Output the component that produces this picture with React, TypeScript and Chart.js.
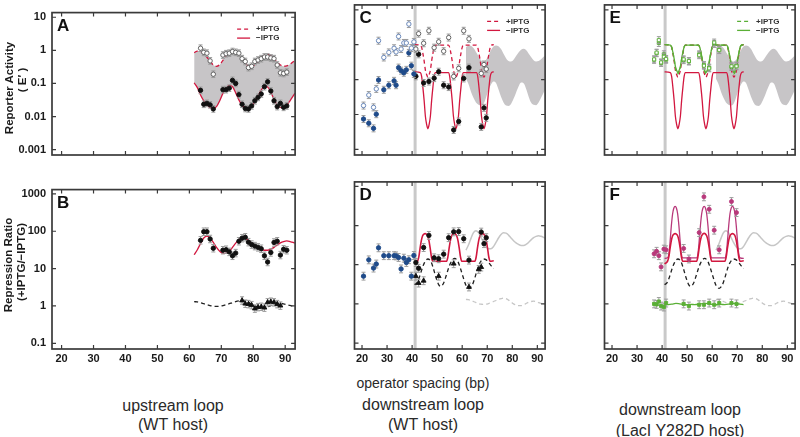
import React, { useEffect, useRef } from "react";
import { Chart, registerables } from "chart.js";
Chart.register(...registerables);

// ---------- axes ----------
const X_MIN = 17.0;
const X_MAX = 93.1;
const X_TICKS = [20, 30, 40, 50, 60, 70, 80, 90];
const TOP_Y_TICKS = [0.001, 0.01, 0.1, 1, 10];
const BOT_Y_TICKS = [0.1, 1, 10, 100, 1000];
const TOP_Y_RANGE = [0.00069, 13.8];
const BOT_Y_RANGE = [0.0705, 1300];
const VLINE_X = 41.2;

// ---------- upstream loop (A, B) ----------
const A_X = [63.5, 64.5, 65.5, 66.5, 67.5, 70.5, 71.5, 72.5, 73.5, 74.5, 75.5, 76.5, 77.5, 78.5, 79.5, 80.5, 81.5, 82.5, 83.5, 84.5, 85.5, 86.5, 87.5, 88.5, 89.5, 90.5];
const A_PLUS = [1.16, 0.87, 0.82, 0.48, 0.19, 0.72, 0.79, 0.82, 0.92, 0.87, 0.82, 0.56, 0.46, 0.30, 0.33, 0.46, 0.51, 0.56, 0.63, 0.63, 0.59, 0.56, 0.36, 0.21, 0.20, 0.22];
const A_MINUS = [0.062, 0.0235, 0.025, 0.0226, 0.017, 0.065, 0.065, 0.072, 0.124, 0.10, 0.046, 0.0235, 0.0175, 0.017, 0.021, 0.030, 0.038, 0.048, 0.080, 0.112, 0.059, 0.030, 0.020, 0.025, 0.019, 0.021];
const B_RATIO = [57, 97, 97, 62, 35, 31, 32, 28, 22, 26, 54, 65, 69, 51, 44, 40, 37, 34, 22, 15, 27, 50, 54, 23, 33, 31];
const B_TRI_X = [76.5, 77.5, 78.5, 79.5, 80.5, 81.5, 82.5, 83.5, 84.5, 85.5, 86.5, 87.5, 88.5];
const B_TRI = [1.4, 1.15, 1.12, 1.05, 0.85, 0.93, 0.95, 0.9, 1.25, 1.3, 1.25, 1.12, 1.02];

// model curves for upstream loop (also shown as band / grey curves in other panels)
const BAND_X = [61.5, 62.5, 63.5, 64.5, 65.5, 66.5, 67.5, 68.5, 69.5, 70.5, 71.5, 72.5, 73.5, 74.5, 75.5, 76.5, 77.5, 78.5, 79.5, 80.5, 81.5, 82.5, 83.5, 84.5, 85.5, 86.5, 87.5, 88.5, 89.5, 90.5, 91.5, 92.5, 93.0];
const BAND_UP = [0.85, 0.95, 0.93, 0.8, 0.62, 0.47, 0.36, 0.33, 0.37, 0.5, 0.7, 0.88, 0.95, 0.9, 0.75, 0.55, 0.41, 0.34, 0.33, 0.37, 0.47, 0.6, 0.72, 0.76, 0.7, 0.56, 0.44, 0.36, 0.33, 0.34, 0.38, 0.45, 0.48];
const BAND_LO = [0.105, 0.075, 0.045, 0.03, 0.022, 0.019, 0.018, 0.02, 0.03, 0.05, 0.072, 0.088, 0.08, 0.052, 0.032, 0.022, 0.018, 0.0175, 0.02, 0.028, 0.042, 0.063, 0.082, 0.078, 0.055, 0.033, 0.022, 0.019, 0.0185, 0.022, 0.03, 0.042, 0.05];
const B_FIT = [23.5, 32, 47, 66, 74, 66, 50, 37, 29, 25.5, 25.5, 29, 37, 48, 59, 65, 64, 57, 48, 41, 36, 33, 31, 31, 33, 37, 43, 49, 53, 55, 53, 50, 48];
const B_DASH = [1.3, 1.28, 1.22, 1.15, 1.08, 1.02, 0.98, 0.97, 0.98, 1.02, 1.08, 1.15, 1.22, 1.3, 1.36, 1.4, 1.36, 1.25, 1.12, 1.0, 0.93, 0.9, 0.9, 0.95, 1.02, 1.1, 1.15, 1.17, 1.14, 1.08, 1.03, 1.0, 1.0];

// ---------- downstream loop, WT host (C, D) ----------
const BLUE_X = [20.6, 22.7, 24.6, 25.7, 26.6, 28.7, 30.7, 32.8, 33.6, 34.6, 35.6, 36.7, 37.7, 38.7, 39.7, 40.7];
const C_BLUE_PLUS = [0.018, 0.036, 0.016, 0.054, 1.3, 0.43, 0.6, 0.79, 0.62, 1.72, 0.75, 1.12, 1.12, 3.9, 0.8, 1.2];
const C_BLUE_MINUS = [0.0074, 0.0056, 0.004, 0.0102, 0.097, 0.051, 0.069, 0.092, 0.069, 0.22, 0.18, 0.157, 0.19, 0.58, 0.25, 0.145];
const D_BLUE = [5.1, 13.3, 8.2, 10.4, 27, 17, 17, 17, 16.8, 15.3, 7.8, 14.7, 11.4, 13.4, 5.1, 17.2];
const DARK_X = [41.5, 42.6, 44.6, 46.7, 48.8, 50.6, 52.6, 54.6, 56.6, 58.6, 60.6, 62.7, 67.6, 68.7, 69.6];
const C_PLUS = [0.75, 2.07, 1.1, 2.5, 0.82, 1.21, 0.65, 1.6, 0.123, 0.21, 2.5, 1.47, 0.15, 0.27, 0.2];
const C_MINUS = [0.124, 0.53, 0.08, 0.088, 0.11, 0.168, 0.069, 0.061, 0.0036, 0.0063, 0.108, 0.22, 0.0044, 0.0155, 0.008];
const D_RATIO = [11.4, 8.1, 27.4, 56, 15, 14.2, 18.6, 49, 69, 70, 46, 13.1, 68, 34.5, 49];
const D_TRI_X = [41.5, 42.6, 44.6, 50.6, 56.6, 62.7, 66.6, 67.6];
const D_TRI = [5.1, 3.4, 3.9, 5.1, 10.6, 2.7, 7.6, 8.7];

const FIT_X = [41.0, 43.3, 43.8, 44.3, 44.8, 45.3, 45.8, 46.3, 46.8, 47.3, 47.8, 48.3, 48.8, 49.3, 54.5, 55.0, 55.5, 56.0, 56.5, 57.0, 57.5, 58.0, 58.5, 59.0, 59.5, 60.0, 60.5, 65.7, 66.2, 66.7, 67.2, 67.7, 68.2, 68.7, 69.2, 69.7, 70.2, 70.7, 71.2, 71.7, 72.6];
const FIT_MINUS = [0.166, 0.158, 0.123, 0.060, 0.0254, 0.0089, 0.0052, 0.0039, 0.0052, 0.0089, 0.0254, 0.060, 0.123, 0.158, 0.158, 0.123, 0.060, 0.0254, 0.0089, 0.0052, 0.0039, 0.0052, 0.0089, 0.0254, 0.060, 0.123, 0.158, 0.158, 0.123, 0.060, 0.0254, 0.0089, 0.0052, 0.0039, 0.0052, 0.0089, 0.0254, 0.060, 0.123, 0.158, 0.166];
const FIT_PLUS = [1.0, 0.97, 0.84, 0.56, 0.343, 0.188, 0.139, 0.117, 0.139, 0.188, 0.343, 0.56, 0.84, 0.97, 0.97, 0.84, 0.56, 0.343, 0.188, 0.139, 0.117, 0.139, 0.188, 0.343, 0.56, 0.84, 0.97, 0.97, 0.84, 0.56, 0.343, 0.188, 0.139, 0.117, 0.139, 0.188, 0.343, 0.56, 0.84, 0.97, 1.0];

const RATIO_FIT_X = [41.0, 42.2, 42.7, 43.2, 43.7, 44.2, 44.7, 45.2, 45.7, 46.2, 46.7, 47.2, 47.7, 48.2, 53.8, 54.3, 54.8, 55.3, 55.8, 56.3, 56.8, 57.3, 57.8, 58.3, 58.8, 59.3, 59.8, 65.1, 65.6, 66.1, 66.6, 67.1, 67.6, 68.1, 68.6, 69.1, 69.6, 70.1, 70.6, 71.1, 72.6];
const D_FIT = [10.5, 12.3, 16, 27, 42, 55, 60, 62, 60, 55, 42, 27, 16, 12.3, 12.3, 16, 27, 42, 55, 61, 63, 61, 55, 42, 27, 16, 12.3, 12.3, 16, 27, 42, 55, 60, 62, 60, 55, 42, 27, 16, 12.3, 12.6];
const DASH_X = [41, 42, 43, 44, 45, 46.3, 47.5, 48.5, 49.5, 50.5, 51.4, 52.5, 53.5, 54.5, 55.5, 57, 58.3, 59.3, 60.3, 61.5, 62.8, 64, 65, 66, 67, 68.5, 69.5, 70.5, 71.5, 72.6];
const DASH_Y = [3.1, 3.5, 5, 8, 11.5, 14, 12, 8, 4.8, 3.2, 2.8, 3.3, 5, 8, 11.5, 14.5, 12, 8, 5, 3, 2.5, 3, 4.5, 7.5, 11, 14, 13.5, 11.5, 9.5, 8];

// ---------- downstream loop, LacI Y282D host (E, F) ----------
const Y282D_X = [36.8, 37.8, 38.7, 39.6, 40.7, 41.6, 48.6, 50.7, 54.8, 56.7, 58.8, 60.8, 62.8, 67.7, 69.7];
const E_PLUS = [0.38, 0.59, 1.35, 0.31, 0.45, 0.39, 0.38, 0.34, 0.5, 0.25, 0.21, 1.15, 0.7, 0.24, 0.24];
const E_MINUS = [0.37, 0.57, 1.12, 0.3, 0.53, 0.37, 0.36, 0.33, 0.53, 0.26, 0.22, 1.05, 0.72, 0.23, 0.25];
const E_FIT_MINUS = [1.0, 0.97, 0.86, 0.61, 0.40, 0.24, 0.184, 0.158, 0.184, 0.24, 0.40, 0.61, 0.86, 0.97, 0.97, 0.86, 0.61, 0.40, 0.24, 0.184, 0.158, 0.184, 0.24, 0.40, 0.61, 0.86, 0.97, 0.97, 0.86, 0.61, 0.40, 0.24, 0.184, 0.158, 0.184, 0.24, 0.40, 0.61, 0.86, 0.97, 1.0];
const E_FIT_PLUS = [1.0, 0.97, 0.86, 0.59, 0.38, 0.22, 0.169, 0.145, 0.169, 0.22, 0.38, 0.59, 0.86, 0.97, 0.97, 0.86, 0.59, 0.38, 0.22, 0.169, 0.145, 0.169, 0.22, 0.38, 0.59, 0.86, 0.97, 0.97, 0.86, 0.59, 0.38, 0.22, 0.169, 0.145, 0.169, 0.22, 0.38, 0.59, 0.86, 0.97, 1.0];
const F_MAG = [19, 22, 17, 8.8, 25, 24, 26, 14, 66, 540, 260, 76, 24, 410, 214];
const F_GREEN = [1.0, 0.97, 1.15, 0.88, 0.83, 1.05, 1.0, 0.88, 0.95, 0.95, 1.05, 0.95, 1.05, 1.05, 1.0];
const F_MAG_FIT = [14.5, 15, 19, 40, 100, 200, 280, 310, 280, 200, 100, 40, 19, 15, 15, 19, 40, 100, 200, 280, 310, 280, 200, 100, 40, 19, 15, 15, 19, 40, 100, 200, 280, 310, 280, 200, 100, 40, 19, 15, 14.5];
const G_FLAT_X = [41, 42.5, 44, 45.5, 47, 48.5, 50, 51.5, 53, 54.5, 56, 57.5, 59, 60.5, 62, 63.5, 65, 66.5, 68, 69.5, 71, 72.5];
const F_GREEN_FIT = [0.95, 0.96, 0.99, 1.03, 1.0, 0.96, 0.95, 0.97, 0.96, 0.98, 1.02, 1.03, 0.99, 0.96, 0.95, 0.97, 0.96, 0.98, 1.03, 1.02, 0.98, 0.96];

// ---------- style ----------
const FONT = '"Liberation Sans", Arial, Helvetica, sans-serif';
const FRAME = "#3a3a3a";
const RED = "#d2173f";
const MAGENTA = "#b8387a";
const GREEN = "#5aaf36";
const BLUE = "#1f4b8a";
const BLUE_OPEN = "#5b7db3";
const BAND_GRAY = "#c7c5c7";
const LIGHT_GRAY = "#c6c6c6";
const ERR = 0.1;

const pts = (xs: number[], ys: number[]) => xs.map((x, i) => ({ x, y: ys[i] }));

const curve = (xs: number[], ys: number[], color: string, opts: any = {}) => ({
  data: pts(xs, ys),
  borderColor: color,
  borderWidth: 1.3,
  pointRadius: 0,
  fill: false,
  cubicInterpolationMode: "monotone",
  order: 10,
  ...opts,
});

const band = (): any[] => [
  { data: pts(BAND_X, BAND_UP), borderWidth: 0, borderColor: "rgba(0,0,0,0)", pointRadius: 0, fill: false, cubicInterpolationMode: "monotone", order: 20 },
  { data: pts(BAND_X, BAND_LO), borderWidth: 0, borderColor: "rgba(0,0,0,0)", pointRadius: 0, fill: "-1", backgroundColor: BAND_GRAY, cubicInterpolationMode: "monotone", order: 20 },
];

const marks = (xs: number[], ys: number[], style: string, fillC: string, edge: string, opts: any = {}) => ({
  data: pts(xs, ys),
  showLine: false,
  pointStyle: style,
  pointRadius: 2.2,
  pointBackgroundColor: fillC,
  pointBorderColor: edge,
  pointBorderWidth: 0.9,
  errDec: ERR,
  order: 2,
  ...opts,
});

const decoPlugin = {
  id: "deco",
  beforeDatasetsDraw(chart: any) {
    const o = chart.options.plugins.deco;
    const { ctx, chartArea: a } = chart;
    if (o && o.vline) {
      const px = chart.scales.x.getPixelForValue(VLINE_X);
      ctx.save();
      ctx.strokeStyle = "#c9c9c9";
      ctx.lineWidth = 3;
      ctx.beginPath();
      ctx.moveTo(px, a.top);
      ctx.lineTo(px, a.bottom);
      ctx.stroke();
      ctx.restore();
    }
  },
  beforeDatasetDraw(chart: any, args: any) {
    const ds = chart.data.datasets[args.index];
    if (!ds.errDec) return;
    const { ctx } = chart;
    const xs = chart.scales.x;
    const ys = chart.scales.y;
    const f = Math.pow(10, ds.errDec);
    ctx.save();
    ctx.strokeStyle = "#9c9c9c";
    ctx.lineWidth = 1;
    ds.data.forEach((p: any) => {
      const px = xs.getPixelForValue(p.x);
      const y1 = ys.getPixelForValue(p.y * f);
      const y2 = ys.getPixelForValue(p.y / f);
      ctx.beginPath();
      ctx.moveTo(px, y1);
      ctx.lineTo(px, y2);
      ctx.moveTo(px - 2, y1);
      ctx.lineTo(px + 2, y1);
      ctx.moveTo(px - 2, y2);
      ctx.lineTo(px + 2, y2);
      ctx.stroke();
    });
    ctx.restore();
  },
  afterDatasetsDraw(chart: any) {
    const o = chart.options.plugins.deco;
    const { ctx, chartArea: a } = chart;
    const xs = chart.scales.x;
    const ys = chart.scales.y;
    ctx.save();
    ctx.strokeStyle = FRAME;
    ctx.lineWidth = 1.7;
    ctx.strokeRect(a.left, a.top, a.right - a.left, a.bottom - a.top);
    ctx.lineWidth = 1.2;
    ctx.beginPath();
    X_TICKS.forEach((v) => {
      const px = xs.getPixelForValue(v);
      ctx.moveTo(px, a.bottom);
      ctx.lineTo(px, a.bottom - 4);
      ctx.moveTo(px, a.top);
      ctx.lineTo(px, a.top + 4);
    });
    (o.yTicks as number[]).forEach((v) => {
      const py = ys.getPixelForValue(v);
      ctx.moveTo(a.left, py);
      ctx.lineTo(a.left + 4, py);
      ctx.moveTo(a.right, py);
      ctx.lineTo(a.right - 4, py);
    });
    ctx.stroke();

    ctx.fillStyle = "#111";
    ctx.font = `bold 17px ${FONT}`;
    ctx.textBaseline = "alphabetic";
    ctx.textAlign = "left";
    ctx.fillText(o.letter, a.left + 5, a.top + 18.5);

    if (o.legendColor) {
      const x0 = a.right - 58;
      const x1 = a.right - 45;
      const r1 = a.top + 16.5;
      const r2 = a.top + 25.5;
      ctx.strokeStyle = o.legendColor;
      ctx.lineWidth = 1.3;
      ctx.setLineDash([4, 3]);
      ctx.beginPath();
      ctx.moveTo(x0, r1);
      ctx.lineTo(x1, r1);
      ctx.stroke();
      ctx.setLineDash([]);
      ctx.beginPath();
      ctx.moveTo(x0, r2);
      ctx.lineTo(x1, r2);
      ctx.stroke();
      ctx.fillStyle = "#333";
      ctx.font = `bold 8px ${FONT}`;
      ctx.textBaseline = "middle";
      ctx.fillText("+IPTG", a.right - 39, r1);
      ctx.fillText("\u2212IPTG", a.right - 39, r2);
    }
    ctx.restore();
  },
};

type Spec = {
  left: number; top: number; w: number; h: number;
  pad: any; bottomRow: boolean; yLabels: boolean; xLabels: boolean;
  letter: string; legendColor?: string; vline?: boolean; datasets: any[];
};

function buildConfig(s: Spec): any {
  const yTicks = s.bottomRow ? BOT_Y_TICKS : TOP_Y_TICKS;
  const yRange = s.bottomRow ? BOT_Y_RANGE : TOP_Y_RANGE;
  const tickFont = { family: FONT, size: 11, weight: "bold" };
  return {
    type: "line",
    data: { datasets: s.datasets },
    options: {
      responsive: false,
      maintainAspectRatio: false,
      animation: false,
      events: [],
      layout: { padding: s.pad },
      plugins: {
        legend: { display: false },
        tooltip: { enabled: false },
        deco: { letter: s.letter, legendColor: s.legendColor || "", vline: !!s.vline, yTicks },
      },
      scales: {
        x: {
          type: "linear",
          min: X_MIN,
          max: X_MAX,
          display: s.xLabels,
          grid: { display: false, drawTicks: false },
          border: { display: false },
          ticks: { font: tickFont, color: "#1a1a1a", padding: 3, maxRotation: 0, autoSkip: false },
          afterBuildTicks: (sc: any) => { sc.ticks = X_TICKS.map((v) => ({ value: v })); },
          afterFit: (sc: any) => { sc.height = 18; },
        },
        y: {
          type: "logarithmic",
          min: yRange[0],
          max: yRange[1],
          display: s.yLabels,
          grid: { display: false, drawTicks: false },
          border: { display: false },
          ticks: { font: tickFont, color: "#1a1a1a", padding: 6, autoSkip: false, callback: (v: any) => String(v) },
          afterBuildTicks: (sc: any) => { sc.ticks = yTicks.map((v) => ({ value: v })); },
          afterFit: (sc: any) => { sc.width = 52; },
        },
      },
    },
    plugins: [decoPlugin],
  };
}

function Panel({ spec }: { spec: Spec }) {
  const ref = useRef<HTMLCanvasElement>(null);
  useEffect(() => {
    const chart = new Chart(ref.current as HTMLCanvasElement, buildConfig(spec));
    return () => chart.destroy();
  }, []);
  return (
    <canvas
      ref={ref}
      width={spec.w}
      height={spec.h}
      style={{ position: "absolute", left: spec.left, top: spec.top, width: spec.w, height: spec.h }}
    />
  );
}

const openCircle = (xs: number[], ys: number[], edge: string, order = 1) => marks(xs, ys, "circle", "#ffffff", edge, { order });
const filledCircle = (xs: number[], ys: number[], c: string, order = 2) => marks(xs, ys, "circle", c, c, { order });

const SPECS: Spec[] = [
  {
    left: 0, top: 0, w: 300, h: 177, pad: { left: 0, top: 4, right: 2, bottom: 4 },
    bottomRow: false, yLabels: true, xLabels: false, letter: "A", legendColor: RED,
    datasets: [
      ...band(),
      curve(BAND_X, BAND_UP, RED, { borderDash: [4, 3] }),
      curve(BAND_X, BAND_LO, RED),
      filledCircle(A_X, A_MINUS, "#111"),
      openCircle(A_X, A_PLUS, "#555"),
    ],
  },
  {
    left: 0, top: 177, w: 300, h: 190, pad: { left: 0, top: 3.5, right: 2, bottom: 0 },
    bottomRow: true, yLabels: true, xLabels: true, letter: "B",
    datasets: [
      curve(BAND_X, B_FIT, RED),
      curve(BAND_X, B_DASH, "#222", { borderDash: [4, 3] }),
      filledCircle(A_X, B_RATIO, "#111"),
      marks(B_TRI_X, B_TRI, "triangle", "#111", "#111", { pointRadius: 2.8 }),
    ],
  },
  {
    left: 300, top: 0, w: 250, h: 177, pad: { left: 2.5, top: 4, right: 1.5, bottom: 4 },
    bottomRow: false, yLabels: false, xLabels: false, letter: "C", legendColor: RED, vline: true,
    datasets: [
      ...band(),
      curve(FIT_X, FIT_PLUS, RED, { borderDash: [4, 3] }),
      curve(FIT_X, FIT_MINUS, RED),
      filledCircle(BLUE_X, C_BLUE_MINUS, BLUE),
      openCircle(BLUE_X, C_BLUE_PLUS, BLUE_OPEN),
      filledCircle(DARK_X, C_MINUS, "#111"),
      openCircle(DARK_X, C_PLUS, "#555"),
    ],
  },
  {
    left: 300, top: 177, w: 250, h: 190, pad: { left: 2.5, top: 3.5, right: 1.5, bottom: 0 },
    bottomRow: true, yLabels: false, xLabels: true, letter: "D", vline: true,
    datasets: [
      curve(BAND_X, B_FIT, LIGHT_GRAY, { order: 20, borderWidth: 1.5 }),
      curve(BAND_X, B_DASH, LIGHT_GRAY, { order: 20, borderDash: [4, 3] }),
      curve(DASH_X, DASH_Y, "#222", { borderDash: [4, 3] }),
      curve(RATIO_FIT_X, D_FIT, RED, { order: 9, borderWidth: 1.6 }),
      filledCircle(BLUE_X, D_BLUE, BLUE),
      filledCircle(DARK_X, D_RATIO, "#111"),
      marks(D_TRI_X, D_TRI, "triangle", "#111", "#111", { pointRadius: 2.8 }),
    ],
  },
  {
    left: 550, top: 0, w: 250, h: 177, pad: { left: 2.5, top: 4, right: 4, bottom: 4 },
    bottomRow: false, yLabels: false, xLabels: false, letter: "E", legendColor: GREEN, vline: true,
    datasets: [
      ...band(),
      curve(FIT_X, FIT_MINUS, RED),
      curve(FIT_X, FIT_PLUS, RED, { borderDash: [4, 3] }),
      curve(FIT_X, E_FIT_MINUS, GREEN, { order: 8 }),
      curve(FIT_X, E_FIT_PLUS, GREEN, { order: 8, borderDash: [4, 3] }),
      marks(Y282D_X, E_MINUS, "rect", GREEN, GREEN, { order: 2 }),
      marks(Y282D_X, E_PLUS, "rect", "#ffffff", GREEN, { order: 1 }),
    ],
  },
  {
    left: 550, top: 177, w: 250, h: 190, pad: { left: 2.5, top: 3.5, right: 4, bottom: 0 },
    bottomRow: true, yLabels: false, xLabels: true, letter: "F", vline: true,
    datasets: [
      curve(BAND_X, B_FIT, LIGHT_GRAY, { order: 20, borderWidth: 1.5 }),
      curve(BAND_X, B_DASH, LIGHT_GRAY, { order: 20, borderDash: [4, 3] }),
      curve(DASH_X, DASH_Y, "#222", { borderDash: [4, 3] }),
      curve(RATIO_FIT_X, D_FIT, RED, { order: 9, borderWidth: 1.6 }),
      curve(RATIO_FIT_X, F_MAG_FIT, MAGENTA, { order: 9 }),
      curve(G_FLAT_X, F_GREEN_FIT, GREEN, { order: 9 }),
      marks(Y282D_X, F_MAG, "circle", MAGENTA, MAGENTA, { pointRadius: 2 }),
      marks(Y282D_X, F_GREEN, "rect", GREEN, GREEN, { order: 1 }),
    ],
  },
];

const rotated = (text: string, cx: number, cy: number) => (
  <div
    style={{
      position: "absolute", left: cx, top: cy, transform: "translate(-50%, -50%) rotate(-90deg)",
      whiteSpace: "nowrap", font: `bold 11.5px ${FONT}`, color: "#1a1a1a", lineHeight: "13px",
    }}
  >
    {text}
  </div>
);

const caption = (text: string, cx: number, cy: number, size = 16) => (
  <div
    style={{
      position: "absolute", left: cx, top: cy, transform: "translate(-50%, -50%)",
      whiteSpace: "nowrap", font: `${size}px ${FONT}`, color: "#2a2a2a", lineHeight: `${size + 2}px`,
    }}
  >
    {text}
  </div>
);

export default function App() {
  return (
    <div style={{ position: "fixed", left: 0, top: 0, width: 800, height: 437, background: "#fff", overflow: "hidden" }}>
      {SPECS.map((s, i) => (
        <Panel key={i} spec={s} />
      ))}
      {rotated("Reporter Activity", 9, 88)}
      {rotated("( E\u2032 )", 22, 80)}
      {rotated("Repression Ratio", 8, 265)}
      {rotated("(+IPTG/\u2212IPTG)", 21, 262)}
      {caption("operator spacing (bp)", 423, 383, 14)}
      {caption("upstream loop", 173, 406)}
      {caption("(WT host)", 173, 425)}
      {caption("downstream loop", 423, 405)}
      {caption("(WT host)", 423, 425)}
      {caption("downstream loop", 680, 410)}
      {caption("(LacI Y282D host)", 680, 431)}
    </div>
  );
}
